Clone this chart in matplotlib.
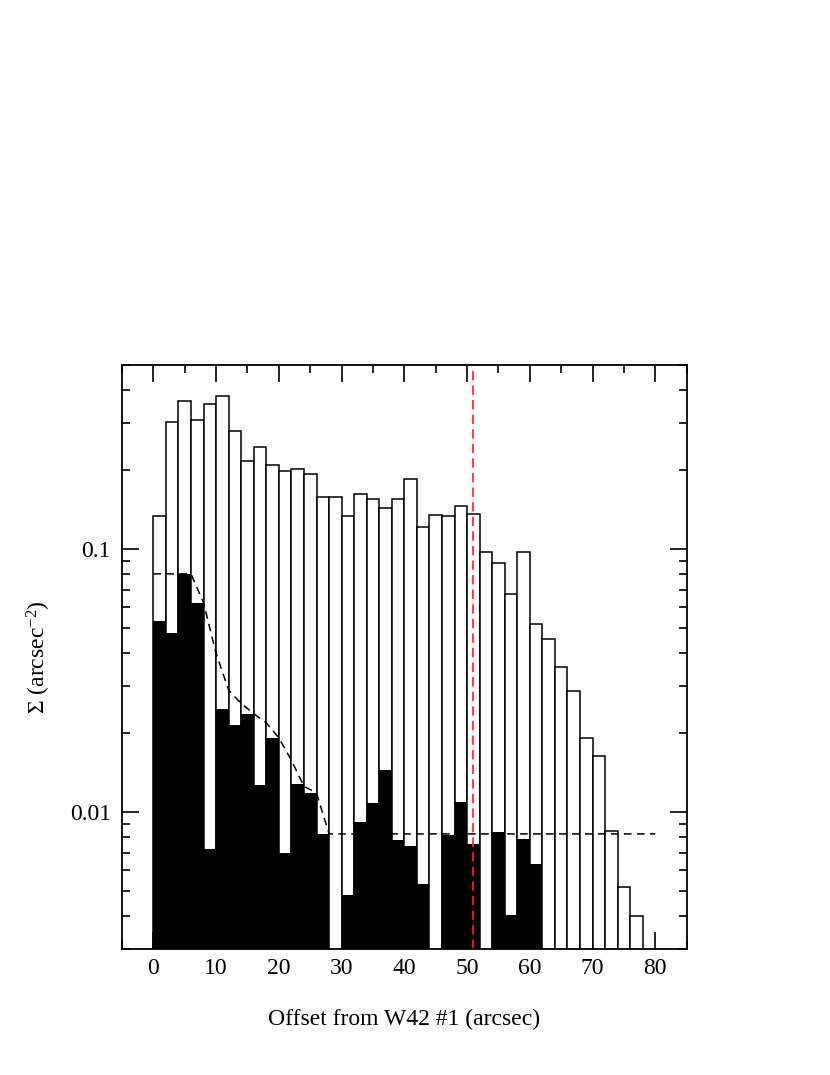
import numpy as np
import matplotlib
matplotlib.use('Agg')
import matplotlib.pyplot as plt

plt.rcParams['font.family'] = ['Liberation Serif', 'DejaVu Serif']
plt.rcParams['mathtext.fontset'] = 'custom'
plt.rcParams['mathtext.rm'] = 'Liberation Serif'
plt.rcParams['mathtext.it'] = 'Liberation Serif:italic'

# bin left edges (arcsec), width 2
bin_left = np.arange(0, 78, 2)

# all sources (open bars)
sigma_all = [0.133, 0.303, 0.364, 0.310, 0.355, 0.380, 0.281, 0.215, 0.243, 0.209,
             0.197, 0.201, 0.192, 0.157, 0.157, 0.133, 0.162, 0.155, 0.143, 0.154,
             0.184, 0.121, 0.135, 0.133, 0.145, 0.136, 0.097, 0.088, 0.0676, 0.097,
             0.0516, 0.0454, 0.0356, 0.0288, 0.0190, 0.0163, 0.00849, 0.00517, 0.00402]

# selected sources (filled bars), 0 = empty bin
sigma_sel = [0.0533, 0.0480, 0.0803, 0.0623, 0.00725, 0.0246, 0.0214, 0.0235, 0.0126, 0.0190,
             0.00696, 0.0128, 0.0118, 0.00824, 0, 0.00484, 0.00914, 0.0108, 0.0144, 0.00778,
             0.00744, 0.00532, 0, 0.00817, 0.0109, 0.00753, 0, 0.00837, 0.00405, 0.00785,
             0.00634, 0, 0, 0, 0, 0, 0, 0, 0]

# dashed profile
prof_x = [0, 6, 8, 10, 12, 14, 16, 18, 20, 22, 24, 26, 28, 80]
prof_y = [0.0803, 0.0803, 0.0623, 0.0400, 0.0290, 0.0258, 0.0236, 0.0218, 0.0191,
          0.0157, 0.0125, 0.0118, 0.00824, 0.00824]

red_line_x = 51

fig = plt.figure(figsize=(8.3, 10.75), dpi=100)
ax = fig.add_axes([0.147, 0.1169, 0.6803, 0.5436])

ax.bar(bin_left, sigma_all, width=2, align='edge', facecolor='white',
       edgecolor='black', linewidth=1.1, zorder=2)
sel = np.array(sigma_sel)
mask = sel > 0
ax.bar(bin_left[mask], sel[mask], width=2, align='edge', color='black',
       linewidth=0, zorder=3)
ax.plot(prof_x, prof_y, color='black', linestyle=(0, (5, 3.5)), linewidth=1.1, zorder=4)
ax.axvline(red_line_x, color='#ff2020', alpha=0.85, linestyle=(0, (4.5, 2.5)),
           linewidth=1.5, zorder=5)

ax.set_yscale('log')
ax.set_xlim(-5, 85)
ax.set_ylim(0.003, 0.5)

ax.set_xticks(np.arange(0, 81, 10))
ax.set_xticks(np.arange(-5, 86, 5), minor=True)
ax.set_yticks([0.01, 0.1])
ax.set_yticklabels(['0.01', '0.1'])
ax.yaxis.set_minor_locator(matplotlib.ticker.LogLocator(base=10, subs=np.arange(2, 10)))
ax.yaxis.set_minor_formatter(matplotlib.ticker.NullFormatter())

ax.tick_params(which='both', direction='in', top=True, right=True, width=1.2,
               labelsize=17)
ax.tick_params(which='major', length=12)
ax.tick_params(which='minor', length=6)
ax.tick_params(axis='x', pad=6)
ax.tick_params(axis='y', pad=8)
for s in ax.spines.values():
    s.set_linewidth(1.3)
    s.set_zorder(6)

ax.set_xlabel('Offset from W42 #1 (arcsec)', fontsize=17, labelpad=22)
ax.set_ylabel('$\\Sigma$ (arcsec$^{-2}$)', fontsize=17, labelpad=12)

fig.savefig('out.png', dpi=100)
